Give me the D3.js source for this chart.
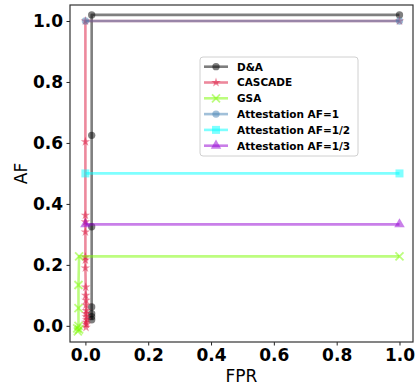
<!DOCTYPE html>
<html>
<head>
<meta charset="utf-8">
<script src="https://cdn.jsdelivr.net/npm/d3@7"></script>
<style>
  html, body { margin: 0; padding: 0; background: #fff; }
  svg { display: block; }
</style>
</head>
<body>
<svg id="chart" width="416" height="387"></svg>
<script>
// ROC-style curves: attack fraction (AF) against false positive rate (FPR)
const seriesNames = ["D&A", "CASCADE", "GSA", "Attestation AF=1", "Attestation AF=1/2", "Attestation AF=1/3"];
const seriesColors = ["#000000", "#dc143c", "#7cfc00", "#4682b4", "#00ffff", "#9400d3"];
const seriesMarkers = ["circle", "star", "x", "circle", "square", "triangle"];

const daFPR = [0.02, 0.02, 0.02, 0.02, 0.02, 0.02, 0.02, 1.0];
const daAF  = [0.02, 0.03, 0.04, 0.062, 0.325, 0.625, 1.02, 1.02];

const cascadeFPR = [0.002, 0.003, 0.002, 0.004, 0.003, 0.002, 0.003, 0.002, 0.002, 0.001, 0.001, 0.0, 0.0, 0.0, 0.0, 0.0, 0.0, 0.0, 0.0, 1.0];
const cascadeAF  = [-0.005, 0.005, 0.012, 0.02, 0.03, 0.04, 0.05, 0.068, 0.084, 0.1, 0.127, 0.19, 0.216, 0.226, 0.308, 0.341, 0.363, 0.604, 1.0, 1.0];

const gsaFPR = [-0.024, -0.02, -0.026, -0.022, -0.022, -0.022, -0.02, 1.0];
const gsaAF  = [-0.018, -0.012, -0.008, 0.0, 0.058, 0.134, 0.228, 0.228];

const att1FPR = [0.0, 1.0];
const att1AF  = [1.0, 1.0];
const att2FPR = [0.0, 1.0];
const att2AF  = [0.5, 0.5];
const att3FPR = [0.0, 1.0];
const att3AF  = [0.333, 0.333];

const xTicks = [0.0, 0.2, 0.4, 0.6, 0.8, 1.0];
const yTicks = [0.0, 0.2, 0.4, 0.6, 0.8, 1.0];

const seriesData = [
  [daFPR, daAF], [cascadeFPR, cascadeAF], [gsaFPR, gsaAF],
  [att1FPR, att1AF], [att2FPR, att2AF], [att3FPR, att3AF]
].map(([xs, ys], i) => ({
  name: seriesNames[i],
  color: seriesColors[i],
  marker: seriesMarkers[i],
  points: xs.map((x, j) => ({ x, y: ys[j] }))
}));

const FONT = "'DejaVu Sans', sans-serif";
const svg = d3.select("#chart");
const plotLeft = 70, plotRight = 413, plotTop = 5, plotBottom = 342;

const x = d3.scaleLinear().domain([-0.049, 1.043]).range([plotLeft, plotRight]);
const y = d3.scaleLinear().domain([-0.053, 1.0525]).range([plotBottom, plotTop]);

function markerPath(kind) {
  if (kind === "circle") return d3.symbol(d3.symbolCircle, 42)();
  if (kind === "star") return d3.symbol(d3.symbolStar, 28)();
  if (kind === "square") return d3.symbol(d3.symbolSquare, 64)();
  if (kind === "triangle") return d3.symbol(d3.symbolTriangle, 48)();
  const s = 4;
  return `M${-s},${-s}L${s},${s}M${-s},${s}L${s},${-s}`;
}

function drawMarker(g, kind, color, cx, cy) {
  const p = g.append("path")
    .attr("d", markerPath(kind))
    .attr("transform", `translate(${cx},${cy})`)
    .attr("opacity", 0.5);
  if (kind === "x") {
    p.attr("fill", "none").attr("stroke", color).attr("stroke-width", 1.8);
  } else {
    p.attr("fill", color);
  }
}

const plot = svg.append("g");
const line = d3.line().x(d => x(d.x)).y(d => y(d.y));

seriesData.forEach(s => {
  const g = plot.append("g");
  g.append("path")
    .datum(s.points)
    .attr("d", line)
    .attr("fill", "none")
    .attr("stroke", s.color)
    .attr("stroke-width", 2.6)
    .attr("stroke-linejoin", "round")
    .attr("opacity", 0.5);
  s.points.forEach(p => drawMarker(g, s.marker, s.color, x(p.x), y(p.y)));
});

// Axes
const xAxis = d3.axisBottom(x).tickValues(xTicks).tickFormat(d3.format(".1f")).tickSize(3.5).tickPadding(3);
const yAxis = d3.axisLeft(y).tickValues(yTicks).tickFormat(d3.format(".1f")).tickSize(3.5).tickPadding(3.5);

const gx = svg.append("g").attr("transform", `translate(0,${plotBottom})`).call(xAxis);
const gy = svg.append("g").attr("transform", `translate(${plotLeft},0)`).call(yAxis);
[gx, gy].forEach(g => {
  g.select(".domain").remove();
  g.selectAll(".tick line").attr("stroke", "#222").attr("stroke-width", 1);
  g.selectAll(".tick text")
    .attr("fill", "#000")
    .style("font-family", FONT)
    .style("font-size", "17px")
    .style("font-weight", "bold");
});

// Frame
svg.append("rect")
  .attr("x", plotLeft).attr("y", plotTop)
  .attr("width", plotRight - plotLeft).attr("height", plotBottom - plotTop)
  .attr("fill", "none").attr("stroke", "#333").attr("stroke-width", 1.2);

// Axis titles
svg.append("text")
  .attr("x", (plotLeft + plotRight) / 2).attr("y", 382)
  .attr("text-anchor", "middle")
  .style("font-family", FONT).style("font-size", "17px")
  .text("FPR");
svg.append("text")
  .attr("transform", `translate(27,${(plotTop + plotBottom) / 2}) rotate(-90)`)
  .attr("text-anchor", "middle")
  .style("font-family", FONT).style("font-size", "17px")
  .text("AF");

// Legend
const legend = svg.append("g");
legend.append("rect")
  .attr("x", 200).attr("y", 57).attr("width", 158).attr("height", 99)
  .attr("rx", 3)
  .attr("fill", "#fff").attr("fill-opacity", 0.8)
  .attr("stroke", "#d0d0d0").attr("stroke-width", 1);

seriesData.forEach((s, i) => {
  const cy = 66.7 + i * 15.8;
  const row = legend.append("g");
  row.append("line")
    .attr("x1", 204).attr("x2", 228).attr("y1", cy).attr("y2", cy)
    .attr("stroke", s.color).attr("stroke-width", 2.6).attr("opacity", 0.5);
  drawMarker(row, s.marker, s.color, 216, cy);
  row.append("text")
    .attr("x", 237).attr("y", cy + 3.8)
    .style("font-family", FONT).style("font-size", "10.5px").style("font-weight", "bold")
    .text(s.name);
});
</script>
</body>
</html>
